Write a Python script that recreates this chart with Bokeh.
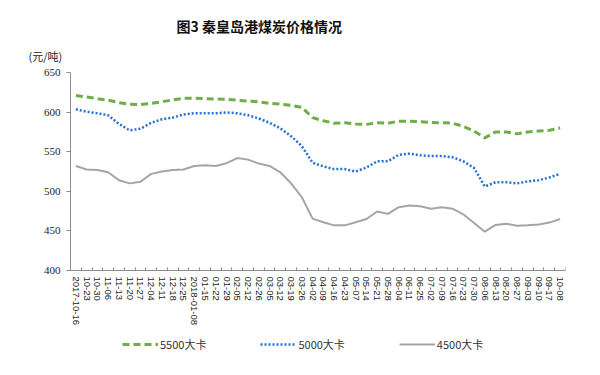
from bokeh.plotting import figure
from bokeh.models import (Range1d, FixedTicker, Title, Legend, LegendItem)
from bokeh.embed import file_html
from bokeh.resources import INLINE

dates = ["2017-10-16", "10-23", "10-30", "11-06", "11-13", "11-20", "11-27", "12-04",
         "12-11", "12-18", "12-25", "2018-01-08", "01-15", "01-22", "01-29", "02-05",
         "02-12", "02-26", "03-05", "03-12", "03-19", "03-26", "04-02", "04-09",
         "04-16", "04-23", "05-07", "05-14", "05-21", "05-28", "06-04", "06-11",
         "06-25", "07-02", "07-09", "07-16", "07-23", "07-30", "08-06", "08-13",
         "08-20", "08-27", "09-03", "09-10", "09-17", "10-08"]

p5500 = [621, 619, 617, 615, 612, 610, 609.5, 611, 613, 615.5, 617.5, 617.5,
         617, 616.5, 616, 615, 614, 613, 611, 610, 608.5, 606, 593, 589,
         586, 586.5, 585, 584.5, 586.5, 586, 588.5, 588.5, 588, 587, 586.5, 586,
         582, 576, 567.5, 575, 575, 572.5, 575, 576, 577, 580]

p5000 = [603.5, 600.5, 598.5, 596, 585, 577, 579, 586.5, 591, 593, 597, 598.5,
         598.5, 598.5, 599.5, 598.5, 596, 592, 586.5, 579.5, 569.5, 557, 536, 531.5,
         528, 528, 525, 530, 538, 538, 546, 547.5, 545.5, 544.5, 544.5, 543,
         538, 529.5, 506, 511.5, 511.5, 510, 512.5, 514, 517.5, 522]

p4500 = [532, 527.5, 527, 524, 514, 510, 512, 522, 525, 527, 527.5, 532,
         533, 532, 535.5, 542, 540, 535, 532, 524, 510, 492.5, 465.5, 461,
         457, 457, 461, 465, 474.5, 471.5, 480, 482, 481, 478, 480, 478,
         471, 460, 449, 457.5, 459, 456.5, 457, 458, 460.5, 465]

y_ticks = [400, 450, 500, 550, 600, 650]
series_names = ["5500大卡", "5000大卡", "4500大卡"]
title_text = "图3 秦皇岛港煤炭价格情况"
unit_text = "(元/吨)"

xs = list(range(len(dates)))

# plotting area: axis part 198 px tall; frame extended 89 px below for labels + legend
AXIS_H, EXTRA_H = 198, 89
Y0, Y1 = y_ticks[0], y_ticks[-1]
y_start = Y0 - EXTRA_H * (Y1 - Y0) / AXIS_H

p = figure(frame_width=495, frame_height=AXIS_H + EXTRA_H, width=584,
           min_border_left=70, min_border_right=19, min_border_top=72, min_border_bottom=0,
           x_range=Range1d(-0.5, len(dates) - 0.5), y_range=Range1d(y_start, Y1),
           output_backend="svg", toolbar_location=None)
p.outline_line_color = None
p.xgrid.visible = False
p.ygrid.visible = False
p.background_fill_color = "white"
p.border_fill_color = "white"

r1 = p.line(xs, p5500, line_color="#70AD47", line_width=3, line_dash="7 4")
r2 = p.line(xs, p5000, line_color="#2670CF", line_width=2.5, line_dash="2 2")
r3 = p.line(xs, p4500, line_color="#A5A5A5", line_width=2)

# y axis
ya = p.yaxis[0]
ya.ticker = FixedTicker(ticks=y_ticks, minor_ticks=[])
ya.bounds = (Y0, Y1)
ya.axis_line_color = "#8c8c8c"
ya.major_tick_line_color = "#8c8c8c"
ya.major_tick_out = 4
ya.major_tick_in = 0
ya.minor_tick_line_color = None
ya.major_label_text_font = "Liberation Serif"
ya.major_label_text_font_size = "11px"
ya.major_label_text_color = "#222222"
ya.major_label_standoff = 6

# x axis, drawn at the 400 level
xa = p.xaxis[0]
xa.fixed_location = Y0
xa.ticker = FixedTicker(ticks=xs, minor_ticks=[i - 0.5 for i in range(len(dates) + 1)])
xa.major_label_overrides = {i: d for i, d in enumerate(dates)}
xa.major_label_orientation = "vertical"
xa.major_label_text_font = "Liberation Sans"
xa.major_label_text_font_size = "9.5px"
xa.major_label_text_color = "#222222"
xa.major_label_standoff = 0
xa.axis_line_color = "#8c8c8c"
xa.major_tick_line_color = None
xa.minor_tick_line_color = "#8c8c8c"
xa.minor_tick_in = 3
xa.minor_tick_out = 0

# unit label (closest to the frame) and title (outermost)
p.add_layout(Title(text=unit_text, align="left", offset=-42,
                   text_font="Noto Sans CJK SC", text_font_size="11px",
                   text_font_style="normal", text_color="#222222", standoff=18), "above")
p.title.text = title_text
p.title.align = "left"
p.title.offset = 106
p.title.text_font = "Noto Sans CJK SC"
p.title.text_font_size = "14px"
p.title.text_font_style = "bold"
p.title.text_color = "#111111"
p.title.standoff = 2

legend = Legend(items=[LegendItem(label=series_names[0], renderers=[r1]),
                       LegendItem(label=series_names[1], renderers=[r2]),
                       LegendItem(label=series_names[2], renderers=[r3])],
                orientation="horizontal", location=(52, 7),
                glyph_width=36, glyph_height=14, label_height=14,
                label_standoff=2, spacing=54, padding=0, margin=0,
                border_line_color=None, background_fill_alpha=0,
                label_text_font="Noto Sans CJK SC", label_text_font_size="11px",
                label_text_color="#333333")
p.add_layout(legend)

open("out.html", "w").write(file_html(p, INLINE))
